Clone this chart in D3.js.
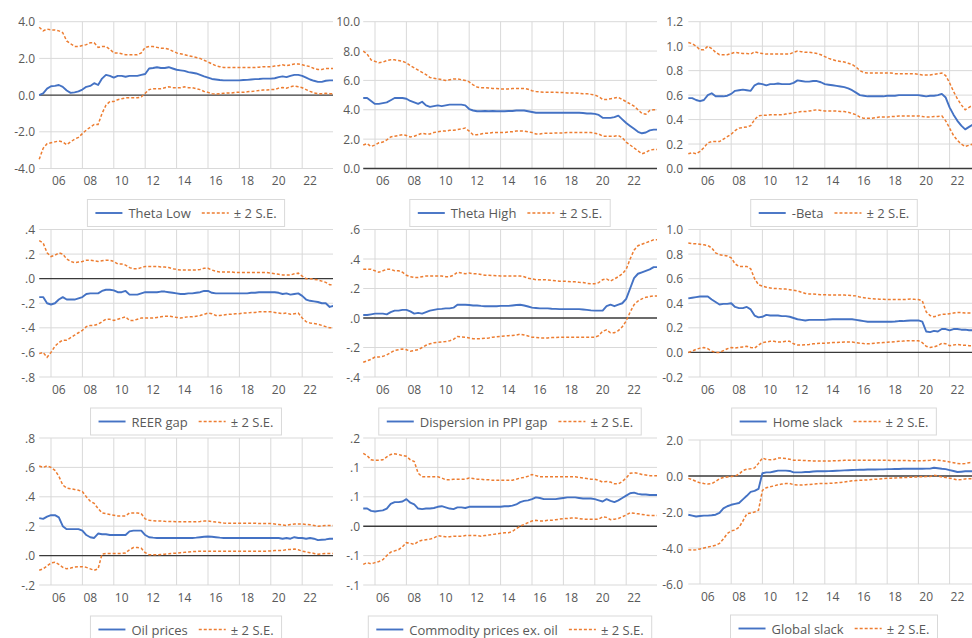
<!DOCTYPE html>
<html><head><meta charset="utf-8">
<script src="https://cdn.jsdelivr.net/npm/d3@7"></script>
<style>
html,body{margin:0;padding:0;background:#fff;}
svg{display:block;font-family:"Open Sans","Noto Sans",sans-serif;}
</style></head>
<body>
<svg id="chart" width="972" height="638"></svg>
<script>
// ---------- DATA (quarterly, 2005Q2 .. 2024Q1) ----------
const quarters = d3.range(76).map(i => 2005.25 + i * 0.25);
const xTickYears = [2006, 2008, 2010, 2012, 2014, 2016, 2018, 2020, 2022];
const xTickLabels = ["06", "08", "10", "12", "14", "16", "18", "20", "22"];
const bandLabel = "± 2 S.E.";

const thetaLow = [0.0,0.1,0.35,0.48,0.5,0.55,0.45,0.25,0.12,0.15, 0.2,0.3,0.45,0.5,0.65,0.55,0.9,1.1,1.05,0.95, 1.05,1.05,1.0,1.05,1.05,1.05,1.1,1.15,1.45,1.48, 1.52,1.48,1.48,1.52,1.45,1.38,1.35,1.32,1.25,1.22, 1.18,1.1,1.02,0.95,0.88,0.85,0.82,0.8,0.8,0.8, 0.8,0.8,0.82,0.83,0.85,0.87,0.88,0.9,0.9,0.9, 0.92,0.98,1.02,0.98,1.05,1.1,1.1,1.05,0.95,0.85, 0.78,0.72,0.72,0.78,0.8,0.8];
const thetaLowUp = [3.7,3.5,3.6,3.55,3.55,3.5,3.4,2.95,2.8,2.65, 2.65,2.7,2.75,2.85,2.85,2.6,2.65,2.65,2.5,2.3, 2.3,2.25,2.2,2.2,2.2,2.2,2.3,2.6,2.65,2.65, 2.6,2.55,2.55,2.5,2.4,2.3,2.25,2.2,2.15,2.1, 2.05,2.0,1.9,1.8,1.7,1.6,1.55,1.5,1.5,1.5, 1.5,1.5,1.5,1.5,1.5,1.5,1.52,1.55,1.55,1.55, 1.58,1.6,1.65,1.6,1.65,1.7,1.7,1.65,1.6,1.55, 1.45,1.4,1.4,1.45,1.45,1.45];
const thetaLowLo = [-3.5,-2.9,-2.65,-2.6,-2.55,-2.5,-2.55,-2.7,-2.55,-2.4, -2.3,-2.1,-1.9,-1.75,-1.6,-1.6,-1.0,-0.55,-0.35,-0.35, -0.25,-0.2,-0.15,-0.15,-0.15,-0.15,-0.1,0.1,0.3,0.35, 0.35,0.35,0.4,0.45,0.4,0.4,0.4,0.45,0.4,0.4, 0.35,0.3,0.2,0.15,0.08,0.05,0.07,0.1,0.12,0.12, 0.15,0.15,0.15,0.18,0.2,0.22,0.25,0.28,0.28,0.3, 0.3,0.38,0.42,0.38,0.45,0.5,0.45,0.4,0.3,0.2, 0.12,0.08,0.08,0.1,0.08,0.08];

const thetaHigh = [4.8,4.8,4.6,4.4,4.4,4.45,4.5,4.65,4.8,4.8, 4.8,4.75,4.6,4.5,4.4,4.55,4.3,4.2,4.25,4.3, 4.25,4.3,4.35,4.35,4.35,4.35,4.3,4.05,3.95,3.9, 3.9,3.92,3.9,3.92,3.9,3.9,3.9,3.92,3.92,3.95, 3.95,3.95,3.9,3.85,3.8,3.8,3.8,3.8,3.8,3.8, 3.8,3.8,3.8,3.8,3.8,3.8,3.78,3.75,3.75,3.72, 3.65,3.45,3.45,3.45,3.5,3.6,3.35,3.1,2.9,2.7, 2.5,2.4,2.45,2.6,2.65,2.65];
const thetaHighUp = [8.0,7.8,7.4,7.3,7.2,7.25,7.35,7.4,7.4,7.35, 7.3,7.2,7.0,6.85,6.7,6.55,6.4,6.2,6.15,6.1, 6.05,6.0,6.05,6.1,6.1,6.05,6.0,5.9,5.7,5.55, 5.5,5.5,5.48,5.45,5.45,5.42,5.42,5.42,5.45,5.45, 5.45,5.45,5.4,5.3,5.25,5.22,5.2,5.2,5.2,5.2, 5.18,5.18,5.15,5.15,5.15,5.12,5.1,5.1,5.05,5.0, 4.9,4.7,4.7,4.75,4.8,4.85,4.7,4.55,4.4,4.25, 4.0,3.75,3.7,3.95,4.0,4.0];
const thetaHighLo = [1.6,1.7,1.5,1.6,1.75,1.8,1.95,2.15,2.2,2.25, 2.3,2.25,2.15,2.2,2.3,2.4,2.35,2.35,2.45,2.5, 2.55,2.55,2.6,2.6,2.65,2.7,2.75,2.55,2.3,2.3, 2.35,2.4,2.4,2.45,2.45,2.45,2.45,2.5,2.5,2.55, 2.55,2.55,2.5,2.45,2.35,2.35,2.4,2.4,2.4,2.42, 2.42,2.42,2.45,2.45,2.45,2.45,2.45,2.45,2.45,2.4, 2.35,2.2,2.2,2.2,2.2,2.25,2.1,1.8,1.6,1.4, 1.2,1.0,1.1,1.25,1.3,1.3];

const negBeta = [0.575,0.575,0.56,0.55,0.56,0.6,0.615,0.59,0.59,0.59, 0.595,0.61,0.635,0.64,0.645,0.64,0.635,0.68,0.695,0.69, 0.68,0.69,0.69,0.695,0.69,0.69,0.69,0.7,0.72,0.715, 0.71,0.71,0.715,0.715,0.705,0.69,0.685,0.68,0.675,0.67, 0.665,0.655,0.64,0.62,0.6,0.595,0.59,0.59,0.59,0.59, 0.59,0.595,0.595,0.595,0.6,0.6,0.6,0.6,0.6,0.6, 0.595,0.59,0.595,0.595,0.6,0.61,0.58,0.5,0.44,0.39, 0.35,0.32,0.34,0.36,0.37,0.37];
const negBetaUp = [1.03,1.02,1.0,0.97,0.97,1.0,0.98,0.95,0.93,0.93, 0.93,0.94,0.95,0.945,0.94,0.94,0.935,0.955,0.945,0.94, 0.935,0.935,0.935,0.935,0.935,0.935,0.935,0.95,0.96,0.955, 0.95,0.95,0.945,0.94,0.93,0.915,0.9,0.89,0.88,0.875, 0.87,0.86,0.85,0.83,0.8,0.785,0.78,0.78,0.78,0.78, 0.78,0.78,0.78,0.775,0.775,0.775,0.775,0.775,0.775,0.77, 0.765,0.765,0.765,0.77,0.775,0.78,0.76,0.7,0.63,0.57, 0.52,0.48,0.5,0.52,0.53,0.53];
const negBetaLo = [0.12,0.13,0.12,0.14,0.17,0.21,0.22,0.22,0.22,0.24, 0.26,0.28,0.31,0.33,0.335,0.34,0.35,0.4,0.43,0.435, 0.435,0.44,0.44,0.44,0.44,0.445,0.45,0.455,0.46,0.465, 0.465,0.47,0.475,0.48,0.475,0.47,0.47,0.47,0.47,0.465, 0.465,0.46,0.45,0.44,0.42,0.41,0.41,0.41,0.415,0.42, 0.42,0.42,0.425,0.425,0.43,0.43,0.43,0.43,0.43,0.43, 0.425,0.42,0.42,0.425,0.425,0.43,0.39,0.33,0.27,0.23, 0.2,0.18,0.19,0.2,0.2,0.2];

const reerGap = [-0.15,-0.15,-0.2,-0.21,-0.2,-0.17,-0.15,-0.17,-0.17,-0.17, -0.16,-0.15,-0.125,-0.12,-0.12,-0.12,-0.1,-0.09,-0.09,-0.095, -0.11,-0.11,-0.1,-0.13,-0.13,-0.13,-0.12,-0.11,-0.11,-0.11, -0.11,-0.105,-0.105,-0.11,-0.115,-0.12,-0.125,-0.125,-0.12,-0.12, -0.115,-0.11,-0.1,-0.1,-0.115,-0.12,-0.12,-0.12,-0.12,-0.12, -0.12,-0.12,-0.12,-0.12,-0.115,-0.115,-0.11,-0.11,-0.11,-0.11, -0.11,-0.115,-0.125,-0.12,-0.13,-0.125,-0.12,-0.14,-0.17,-0.18, -0.185,-0.19,-0.2,-0.2,-0.23,-0.22];
const reerGapUp = [0.31,0.29,0.21,0.18,0.19,0.21,0.2,0.16,0.14,0.13, 0.135,0.14,0.15,0.15,0.145,0.14,0.145,0.15,0.15,0.14, 0.12,0.12,0.11,0.09,0.08,0.08,0.09,0.1,0.1,0.1, 0.1,0.095,0.095,0.09,0.08,0.075,0.07,0.07,0.07,0.07, 0.07,0.075,0.085,0.085,0.07,0.06,0.055,0.055,0.055,0.055, 0.05,0.05,0.05,0.05,0.05,0.05,0.05,0.05,0.05,0.045, 0.04,0.035,0.03,0.03,0.03,0.04,0.045,0.02,0.0,0.0, -0.005,-0.01,-0.02,-0.03,-0.05,-0.05];
const reerGapLo = [-0.61,-0.6,-0.64,-0.6,-0.55,-0.52,-0.5,-0.5,-0.48,-0.46, -0.44,-0.42,-0.39,-0.38,-0.38,-0.37,-0.35,-0.33,-0.33,-0.34, -0.33,-0.32,-0.31,-0.34,-0.34,-0.33,-0.32,-0.32,-0.32,-0.32, -0.315,-0.31,-0.305,-0.305,-0.31,-0.315,-0.32,-0.315,-0.31,-0.31, -0.305,-0.3,-0.29,-0.28,-0.285,-0.3,-0.3,-0.295,-0.29,-0.29, -0.285,-0.285,-0.28,-0.28,-0.275,-0.275,-0.27,-0.27,-0.27,-0.27, -0.275,-0.28,-0.285,-0.28,-0.29,-0.285,-0.28,-0.32,-0.35,-0.36, -0.365,-0.37,-0.38,-0.39,-0.4,-0.4];

const ppiDisp = [0.02,0.02,0.025,0.03,0.03,0.03,0.025,0.04,0.05,0.05, 0.055,0.055,0.045,0.03,0.035,0.03,0.04,0.05,0.055,0.06, 0.062,0.065,0.065,0.07,0.09,0.09,0.09,0.088,0.085,0.085, 0.082,0.08,0.08,0.08,0.08,0.082,0.082,0.082,0.085,0.088, 0.09,0.085,0.078,0.07,0.068,0.065,0.065,0.065,0.063,0.062, 0.06,0.06,0.06,0.06,0.06,0.06,0.058,0.055,0.052,0.05, 0.05,0.05,0.08,0.09,0.08,0.09,0.1,0.13,0.2,0.27, 0.3,0.31,0.32,0.33,0.345,0.345];
const ppiDispUp = [0.33,0.33,0.33,0.32,0.31,0.32,0.33,0.33,0.32,0.32, 0.31,0.29,0.28,0.275,0.275,0.28,0.285,0.285,0.285,0.285, 0.285,0.28,0.28,0.29,0.31,0.305,0.3,0.305,0.3,0.3, 0.295,0.29,0.29,0.288,0.287,0.285,0.285,0.285,0.285,0.285, 0.285,0.28,0.27,0.265,0.26,0.26,0.26,0.258,0.255,0.252, 0.25,0.25,0.248,0.245,0.245,0.242,0.24,0.235,0.232,0.232, 0.24,0.26,0.265,0.25,0.265,0.28,0.3,0.33,0.4,0.46, 0.49,0.5,0.51,0.52,0.53,0.53];
const ppiDispLo = [-0.3,-0.29,-0.28,-0.265,-0.265,-0.26,-0.25,-0.235,-0.22,-0.215, -0.21,-0.215,-0.225,-0.22,-0.215,-0.2,-0.185,-0.175,-0.168,-0.165, -0.162,-0.16,-0.155,-0.145,-0.125,-0.128,-0.13,-0.135,-0.14,-0.14, -0.14,-0.138,-0.135,-0.13,-0.128,-0.125,-0.122,-0.12,-0.118,-0.115, -0.11,-0.115,-0.122,-0.13,-0.132,-0.135,-0.135,-0.135,-0.133,-0.132, -0.13,-0.13,-0.13,-0.13,-0.13,-0.13,-0.13,-0.13,-0.13,-0.13, -0.12,-0.09,-0.08,-0.1,-0.1,-0.085,-0.06,-0.02,0.04,0.09, 0.115,0.13,0.14,0.145,0.15,0.15];

const homeSlack = [0.44,0.445,0.45,0.455,0.455,0.455,0.43,0.41,0.39,0.395, 0.395,0.4,0.37,0.36,0.36,0.37,0.35,0.3,0.285,0.29, 0.305,0.3,0.3,0.3,0.295,0.295,0.29,0.28,0.27,0.265, 0.26,0.265,0.265,0.265,0.265,0.265,0.268,0.27,0.27,0.27, 0.27,0.27,0.27,0.265,0.26,0.255,0.25,0.25,0.25,0.25, 0.25,0.25,0.25,0.252,0.255,0.255,0.258,0.26,0.26,0.26, 0.25,0.17,0.165,0.175,0.17,0.19,0.19,0.18,0.19,0.19, 0.185,0.185,0.18,0.18,0.18,0.18];
const homeSlackUp = [0.89,0.885,0.885,0.88,0.875,0.87,0.85,0.81,0.795,0.79, 0.785,0.77,0.72,0.7,0.7,0.7,0.68,0.6,0.55,0.54, 0.53,0.525,0.52,0.52,0.515,0.515,0.51,0.505,0.5,0.49, 0.48,0.475,0.475,0.472,0.47,0.47,0.468,0.467,0.467,0.467, 0.467,0.465,0.462,0.46,0.45,0.445,0.44,0.437,0.435,0.433, 0.432,0.43,0.43,0.43,0.43,0.43,0.432,0.435,0.432,0.43, 0.42,0.33,0.3,0.29,0.3,0.31,0.31,0.315,0.32,0.325, 0.325,0.32,0.32,0.32,0.32,0.32];
const homeSlackLo = [0.0,0.01,0.025,0.035,0.04,0.03,0.01,0.0,0.0,0.015, 0.03,0.04,0.035,0.04,0.045,0.05,0.04,0.035,0.06,0.08, 0.085,0.09,0.09,0.085,0.085,0.09,0.09,0.07,0.06,0.06, 0.062,0.065,0.07,0.072,0.075,0.075,0.077,0.08,0.08,0.082, 0.085,0.085,0.085,0.08,0.075,0.072,0.07,0.072,0.075,0.078, 0.08,0.082,0.085,0.088,0.09,0.092,0.095,0.095,0.095,0.095, 0.08,0.05,0.04,0.045,0.055,0.075,0.07,0.055,0.06,0.065, 0.06,0.058,0.055,0.055,0.055,0.055];

const oilPrices = [0.255,0.25,0.265,0.275,0.275,0.26,0.2,0.18,0.18,0.18, 0.18,0.17,0.14,0.125,0.12,0.15,0.145,0.145,0.14,0.14, 0.14,0.14,0.14,0.165,0.17,0.17,0.17,0.14,0.125,0.122, 0.12,0.12,0.12,0.12,0.12,0.12,0.12,0.12,0.12,0.12, 0.122,0.125,0.128,0.13,0.128,0.125,0.122,0.12,0.12,0.12, 0.12,0.12,0.12,0.12,0.12,0.12,0.12,0.12,0.12,0.12, 0.12,0.12,0.115,0.12,0.115,0.125,0.12,0.12,0.115,0.12, 0.115,0.105,0.108,0.11,0.115,0.115];
const oilPricesUp = [0.61,0.6,0.61,0.6,0.58,0.54,0.48,0.46,0.455,0.45, 0.445,0.435,0.4,0.37,0.355,0.32,0.29,0.285,0.28,0.275, 0.27,0.27,0.27,0.29,0.29,0.29,0.285,0.25,0.24,0.238, 0.235,0.235,0.233,0.232,0.232,0.23,0.23,0.23,0.23,0.23, 0.23,0.232,0.235,0.235,0.232,0.228,0.225,0.222,0.22,0.22, 0.22,0.22,0.22,0.22,0.22,0.22,0.218,0.218,0.218,0.218, 0.215,0.212,0.208,0.205,0.212,0.215,0.215,0.215,0.212,0.21, 0.205,0.2,0.202,0.205,0.205,0.205];
const oilPricesLo = [-0.1,-0.09,-0.07,-0.05,-0.045,-0.06,-0.08,-0.09,-0.085,-0.078, -0.075,-0.075,-0.08,-0.09,-0.1,-0.09,0.01,0.015,0.015,0.015, 0.015,0.015,0.018,0.04,0.055,0.055,0.05,0.02,0.005,0.005, 0.005,0.008,0.01,0.012,0.015,0.017,0.02,0.022,0.025,0.027, 0.028,0.03,0.03,0.03,0.03,0.03,0.03,0.03,0.03,0.03, 0.03,0.03,0.03,0.03,0.03,0.03,0.03,0.03,0.03,0.032, 0.035,0.035,0.035,0.04,0.042,0.045,0.04,0.03,0.025,0.02, 0.015,0.01,0.012,0.015,0.015,0.015];

const commodity = [0.03,0.03,0.026,0.025,0.026,0.027,0.03,0.038,0.041,0.041, 0.042,0.046,0.04,0.037,0.03,0.029,0.03,0.03,0.031,0.033, 0.034,0.032,0.03,0.029,0.032,0.032,0.031,0.033,0.033,0.033, 0.033,0.033,0.033,0.033,0.033,0.033,0.034,0.034,0.035,0.037, 0.041,0.043,0.044,0.046,0.049,0.048,0.046,0.046,0.046,0.046, 0.047,0.048,0.049,0.049,0.049,0.048,0.047,0.047,0.047,0.046, 0.044,0.042,0.046,0.043,0.041,0.044,0.048,0.052,0.056,0.057, 0.055,0.054,0.054,0.053,0.053,0.053];
const commodityUp = [0.124,0.12,0.113,0.112,0.112,0.113,0.118,0.122,0.123,0.122, 0.12,0.119,0.113,0.11,0.09,0.084,0.084,0.084,0.084,0.084, 0.082,0.079,0.079,0.08,0.08,0.08,0.08,0.082,0.081,0.08, 0.08,0.079,0.079,0.078,0.078,0.078,0.078,0.078,0.078,0.08, 0.082,0.083,0.085,0.088,0.086,0.084,0.084,0.084,0.084,0.084, 0.084,0.084,0.084,0.084,0.084,0.083,0.082,0.081,0.08,0.08, 0.078,0.075,0.076,0.075,0.072,0.072,0.076,0.082,0.09,0.091, 0.09,0.088,0.087,0.086,0.086,0.086];
const commodityLo = [-0.065,-0.062,-0.064,-0.062,-0.06,-0.057,-0.05,-0.044,-0.042,-0.04, -0.035,-0.028,-0.029,-0.031,-0.026,-0.024,-0.023,-0.022,-0.02,-0.016, -0.017,-0.018,-0.018,-0.017,-0.017,-0.017,-0.016,-0.016,-0.016,-0.016, -0.017,-0.016,-0.015,-0.014,-0.013,-0.012,-0.011,-0.011,-0.009,-0.004, 0.0,0.003,0.006,0.009,0.01,0.009,0.009,0.01,0.01,0.011, 0.012,0.013,0.013,0.014,0.014,0.013,0.012,0.012,0.012,0.012, 0.012,0.016,0.015,0.011,0.012,0.013,0.016,0.019,0.023,0.022, 0.021,0.02,0.019,0.018,0.018,0.018];

const globalSlack = [-2.15,-2.2,-2.25,-2.22,-2.2,-2.2,-2.18,-2.15,-2.05,-1.8, -1.68,-1.6,-1.55,-1.5,-1.3,-1.1,-0.88,-0.83,-0.72,0.15, 0.2,0.2,0.25,0.3,0.3,0.3,0.28,0.2,0.2,0.2, 0.22,0.22,0.25,0.26,0.26,0.26,0.27,0.28,0.29,0.3, 0.31,0.32,0.33,0.34,0.35,0.35,0.36,0.36,0.36,0.37, 0.37,0.38,0.38,0.39,0.39,0.4,0.4,0.4,0.4,0.4, 0.4,0.41,0.41,0.46,0.43,0.4,0.38,0.33,0.28,0.22, 0.24,0.26,0.26,0.26,0.26,0.26];
const globalSlackUp = [-0.13,-0.2,-0.3,-0.38,-0.42,-0.45,-0.43,-0.3,-0.15,-0.08, -0.05,-0.03,0.0,0.1,0.3,0.38,0.4,0.45,0.7,1.0, 0.92,0.9,0.92,1.0,1.0,0.97,0.93,0.88,0.87,0.87, 0.86,0.85,0.84,0.83,0.83,0.83,0.84,0.84,0.85,0.86, 0.87,0.87,0.87,0.87,0.87,0.87,0.87,0.87,0.87,0.87, 0.87,0.87,0.86,0.86,0.86,0.86,0.86,0.85,0.85,0.85, 0.85,0.86,0.87,0.9,0.88,0.86,0.82,0.78,0.74,0.7, 0.68,0.7,0.74,0.75,0.75,0.75];
const globalSlackLo = [-4.1,-4.12,-4.1,-4.05,-4.0,-3.95,-3.9,-3.85,-3.75,-3.5, -3.2,-3.05,-3.0,-2.85,-2.5,-2.1,-2.05,-2.0,-1.9,-0.8, -0.65,-0.6,-0.55,-0.48,-0.45,-0.42,-0.42,-0.48,-0.5,-0.5, -0.48,-0.47,-0.45,-0.43,-0.42,-0.42,-0.41,-0.4,-0.38,-0.36, -0.33,-0.3,-0.27,-0.25,-0.24,-0.23,-0.22,-0.2,-0.18,-0.17, -0.15,-0.13,-0.12,-0.11,-0.1,-0.09,-0.08,-0.07,-0.06,-0.05, -0.04,-0.03,-0.03,0.04,0.0,-0.05,-0.08,-0.12,-0.16,-0.22, -0.2,-0.16,-0.15,-0.15,-0.15,-0.15];

// y-axis ticks and their printed labels, per panel
const yTicks1 = [-4, -2, 0, 2, 4];            const yLabels1 = ["-4.0","-2.0","0.0","2.0","4.0"];
const yTicks2 = [0, 2, 4, 6, 8, 10];          const yLabels2 = ["0.0","2.0","4.0","6.0","8.0","10.0"];
const yTicks3 = [0, 0.2, 0.4, 0.6, 0.8, 1.0, 1.2]; const yLabels3 = ["0.0","0.2","0.4","0.6","0.8","1.0","1.2"];
const yTicks4 = [-0.8, -0.6, -0.4, -0.2, 0, 0.2, 0.4]; const yLabels4 = ["-.8","-.6","-.4","-.2",".0",".2",".4"];
const yTicks5 = [-0.4, -0.2, 0, 0.2, 0.4, 0.6]; const yLabels5 = ["-.4","-.2",".0",".2",".4",".6"];
const yTicks6 = [-0.2, 0, 0.2, 0.4, 0.6, 0.8, 1.0]; const yLabels6 = ["-0.2","0.0","0.2","0.4","0.6","0.8","1.0"];
const yTicks7 = [-0.2, 0, 0.2, 0.4, 0.6, 0.8]; const yLabels7 = ["-.2",".0",".2",".4",".6",".8"];
const yTicks8 = [-0.1, -0.05, 0, 0.05, 0.1, 0.15]; const yLabels8 = ["-.1","-.1",".0",".1",".1",".2"];
const yTicks9 = [-6, -4, -2, 0, 2];           const yLabels9 = ["-6.0","-4.0","-2.0","0.0","2.0"];

const seriesNames = ["Theta Low","Theta High","-Beta","REER gap","Dispersion in PPI gap","Home slack","Oil prices","Commodity prices ex. oil","Global slack"];

// ---------- LAYOUT ----------
const COLS = [
  {x06: 51,  ppy: 15.7, right: 333, labelRight: 35,  legendCx: 186},
  {x06: 375, ppy: 15.7, right: 657, labelRight: 360, legendCx: 510},
  {x06: 700, ppy: 15.6, right: 972, labelRight: 683, legendCx: 834}
];
const ROWS = [
  {top: 21.7, bottom: 168.5},
  {top: 229.5, bottom: 377},
  {top: 438, bottom: 585}
];
const BLUE = "#4472C4", ORANGE = "#ED7D31", GRID = "#d9d9d9", TXT = "#595959";

const panels = [
  {est: thetaLow,   up: thetaLowUp,   lo: thetaLowLo,   ticks: yTicks1, labels: yLabels1},
  {est: thetaHigh,  up: thetaHighUp,  lo: thetaHighLo,  ticks: yTicks2, labels: yLabels2},
  {est: negBeta,    up: negBetaUp,    lo: negBetaLo,    ticks: yTicks3, labels: yLabels3},
  {est: reerGap,    up: reerGapUp,    lo: reerGapLo,    ticks: yTicks4, labels: yLabels4},
  {est: ppiDisp,    up: ppiDispUp,    lo: ppiDispLo,    ticks: yTicks5, labels: yLabels5},
  {est: homeSlack,  up: homeSlackUp,  lo: homeSlackLo,  ticks: yTicks6, labels: yLabels6},
  {est: oilPrices,  up: oilPricesUp,  lo: oilPricesLo,  ticks: yTicks7, labels: yLabels7},
  {est: commodity,  up: commodityUp,  lo: commodityLo,  ticks: yTicks8, labels: yLabels8},
  {est: globalSlack,up: globalSlackUp,lo: globalSlackLo,ticks: yTicks9, labels: yLabels9, top: 440, bottom: 584}
].map((p, i) => Object.assign(p, {name: seriesNames[i], col: i % 3, row: Math.floor(i / 3)}));

const svg = d3.select("#chart");
svg.append("rect").attr("width", 972).attr("height", 638).attr("fill", "#fff");
const defs = svg.append("defs");

panels.forEach((p, idx) => {
  const C = COLS[p.col], R = ROWS[p.row];
  const top = p.top != null ? p.top : R.top;
  const bottom = p.bottom != null ? p.bottom : R.bottom;
  const x = d3.scaleLinear().domain([2006, 2022]).range([C.x06, C.x06 + 16 * C.ppy]);
  const y = d3.scaleLinear().domain([d3.min(p.ticks), d3.max(p.ticks)]).range([bottom, top]);
  const left = x(quarters[0]);
  const right = C.right;

  const g = svg.append("g");
  const clipId = "clip" + idx;
  defs.append("clipPath").attr("id", clipId).append("rect")
    .attr("x", left - 3).attr("y", top - 5).attr("width", right - left + 3).attr("height", bottom - top + 10);

  const grid = g.append("g").attr("clip-path", `url(#${clipId})`);
  // vertical grid
  grid.selectAll("line.v").data(xTickYears).join("line")
    .attr("x1", d => x(d)).attr("x2", d => x(d))
    .attr("y1", top).attr("y2", bottom)
    .attr("stroke", GRID).attr("stroke-width", 1);
  // horizontal grid
  grid.selectAll("line.h").data(p.ticks.filter(t => t !== 0)).join("line")
    .attr("x1", left).attr("x2", right + 20)
    .attr("y1", d => y(d)).attr("y2", d => y(d))
    .attr("stroke", GRID).attr("stroke-width", 1);
  // zero line
  grid.append("line")
    .attr("x1", left).attr("x2", right + 20)
    .attr("y1", y(0)).attr("y2", y(0))
    .attr("stroke", "#3a3a3a").attr("stroke-width", 1.4);

  // y labels
  g.selectAll("text.yl").data(p.ticks).join("text")
    .attr("x", C.labelRight).attr("y", d => y(d))
    .attr("text-anchor", "end").attr("dominant-baseline", "central")
    .attr("font-size", 12).attr("fill", TXT)
    .text((d, i) => p.labels[i]);

  // x labels
  g.selectAll("text.xl").data(xTickYears).join("text")
    .attr("x", d => x(d + 0.5)).attr("y", bottom + 12)
    .attr("text-anchor", "middle").attr("dominant-baseline", "central")
    .attr("font-size", 12).attr("fill", TXT)
    .text((d, i) => xTickLabels[i]);

  // series lines
  const lineGen = arr => d3.line().x((d, i) => x(quarters[i])).y(d => y(d))(arr);
  const lines = g.append("g").attr("clip-path", `url(#${clipId})`);
  lines.append("path").attr("d", lineGen(p.est))
    .attr("fill", "none").attr("stroke", BLUE).attr("stroke-width", 1.9).attr("stroke-linejoin", "round");
  [p.up, p.lo].forEach(arr => {
    lines.append("path").attr("d", lineGen(arr))
      .attr("fill", "none").attr("stroke", ORANGE).attr("stroke-width", 1.5)
      .attr("stroke-dasharray", "3,2");
  });

  // legend
  const ly = bottom + 44.5;
  const lg = g.append("g");
  const box = lg.append("rect");
  const items = lg.append("g");
  let cx = 0;
  items.append("line").attr("x1", cx).attr("x2", cx + 27).attr("y1", 0).attr("y2", 0)
    .attr("stroke", BLUE).attr("stroke-width", 1.9);
  cx += 33;
  const t1 = items.append("text").attr("x", cx).attr("y", 0).attr("dominant-baseline", "central")
    .attr("font-size", 13).attr("fill", TXT).text(p.name);
  cx += t1.node().getComputedTextLength() + 11;
  items.append("line").attr("x1", cx).attr("x2", cx + 27).attr("y1", 0).attr("y2", 0)
    .attr("stroke", ORANGE).attr("stroke-width", 1.5).attr("stroke-dasharray", "3,2");
  cx += 32;
  const t2 = items.append("text").attr("x", cx).attr("y", 0).attr("dominant-baseline", "central")
    .attr("font-size", 13).attr("fill", TXT).text(bandLabel);
  cx += t2.node().getComputedTextLength();
  const pad = 8;
  const x0 = C.legendCx - cx / 2;
  items.attr("transform", `translate(${x0},${ly})`);
  box.attr("x", x0 - pad).attr("y", ly - 13.5).attr("width", cx + 2 * pad).attr("height", 27)
    .attr("fill", "#fff").attr("stroke", GRID).attr("stroke-width", 1);
});
</script>
</body></html>
